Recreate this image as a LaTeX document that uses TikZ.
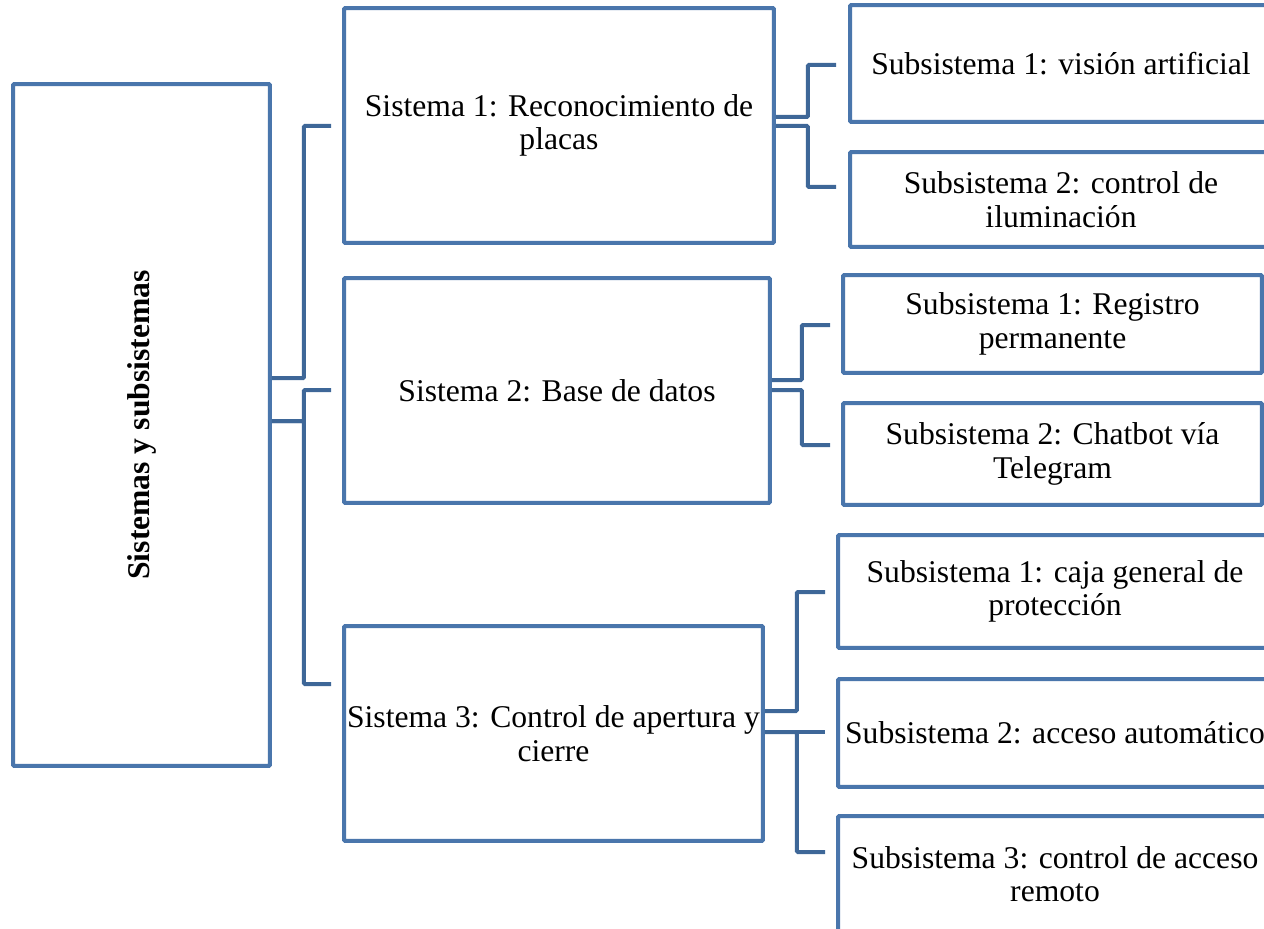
\documentclass[tikz,border=0pt]{standalone}
\usepackage{fontspec}
\setmainfont{Liberation Serif}
\usetikzlibrary{calc}

\definecolor{boxblue}{RGB}{74,118,172}
\definecolor{linkblue}{RGB}{62,103,152}

\begin{document}
\begin{tikzpicture}[x=0.02cm, y=-0.02cm,
  box/.style={draw=boxblue, line width=0.08cm, fill=white, rounded corners=0.6pt,
    align=center, inner sep=0pt, font=\fontsize{18}{19}\selectfont},
  link/.style={draw=linkblue, line width=0.08cm, rounded corners=0.6pt}]
        \useasboundingbox (0,0) rectangle (1264,929);
        \clip (0,0) rectangle (1264,929);

        % root (turned on its side)
        \node[box, rotate=90, minimum width=13.64cm, minimum height=5.14cm, font=\fontsize{18}{19}\selectfont\bfseries]
            (root) at (141.5,425) {Sistemas y subsistemas};

        % systems
        \node[box, minimum width=8.6cm, minimum height=4.7cm] (sys1) at (559,125.5) {Sistema 1: Reconocimiento de\\placas};
        \node[box, minimum width=8.52cm, minimum height=4.5cm] (sys2) at (557,390.5) {Sistema 2: Base de datos};
        \node[box, minimum width=8.38cm, minimum height=4.3cm] (sys3) at (553.5,733.5) {Sistema 3: Control de apertura y\\cierre};

        % subsystems
        \node[box, minimum width=8.44cm, minimum height=2.34cm] (sub11) at (1061,63.5) {Subsistema 1: visión artificial};
        \node[box, minimum width=8.44cm, minimum height=1.9cm] (sub12) at (1061,199.5) {Subsistema 2: control de\\iluminación};
        \node[box, minimum width=8.38cm, minimum height=1.96cm] (sub21) at (1052.5,324) {Subsistema 1: Registro\\permanente};
        \node[box, minimum width=8.38cm, minimum height=2.04cm] (sub22) at (1052.5,454) {Subsistema 2: Chatbot vía\\Telegram};
        \node[box, minimum width=8.68cm, minimum height=2.26cm] (sub31) at (1055,591.5) {Subsistema 1: caja general de\\protección};
        \node[box, minimum width=8.68cm, minimum height=2.16cm] (sub32) at (1055,733) {Subsistema 2: acceso automático};
        \node[box, minimum width=8.68cm, minimum height=2.32cm] (sub33) at (1055,874) {Subsistema 3: control de acceso\\remoto};

        % root to systems
        \draw[link] ($(root.south)+(0,-47)$) -- ++(32,0) |- ($(sys1.west)+(-11,0.5)$);
        \draw[link] ($(root.south)+(0,-4)$) -- ++(32,0) |- ($(sys2.west)+(-11,-0.5)$);
        \draw[link] ($(root.south)+(0,-4)$) -- ++(32,0) |- ($(sys3.west)+(-11,-49.5)$);

        % systems to subsystems
        \draw[link] ($(sys1.east)+(0,-8.5)$) -- ++(32,0) |- ($(sub11.west)+(-12,1.5)$);
        \draw[link] ($(sys1.east)+(0,0.5)$) -- ++(32,0) |- ($(sub12.west)+(-12,-12.5)$);
        \draw[link] ($(sys2.east)+(0,-10.5)$) -- ++(30,0) |- ($(sub21.west)+(-11,1)$);
        \draw[link] ($(sys2.east)+(0,-0.5)$) -- ++(30,0) |- ($(sub22.west)+(-11,-9)$);
        \draw[link] ($(sys3.east)+(0,-22.5)$) -- ++(32,0) |- ($(sub31.west)+(-11,0.5)$);
        \draw[link] ($(sys3.east)+(0,-1.5)$) -- ($(sub32.west)+(-11,-1)$);
        \draw[link] ($(sys3.east)+(0,-1.5)$) -- ++(32,0) |- ($(sub33.west)+(-11,-22)$);
\end{tikzpicture}
\end{document}
